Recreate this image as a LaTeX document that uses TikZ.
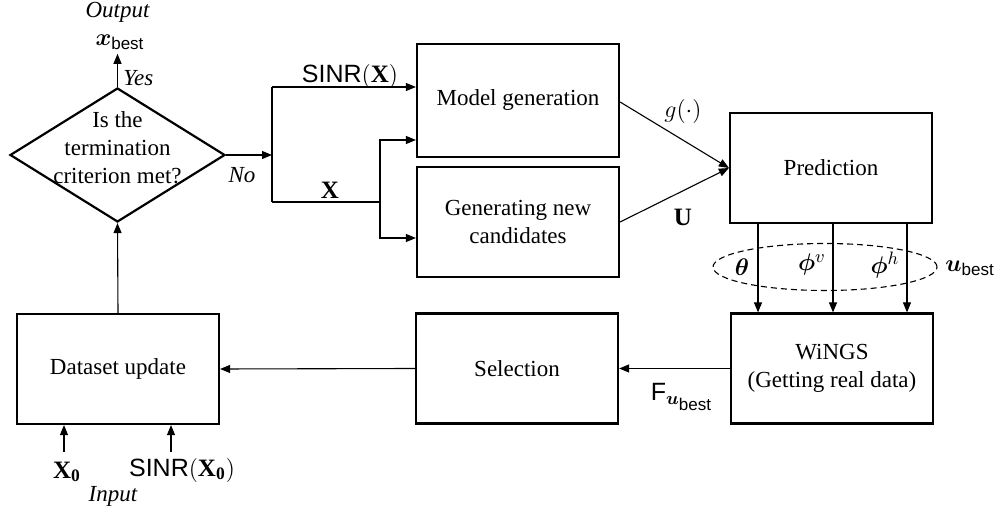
\documentclass[tikz,border=0pt]{standalone}
\usepackage{amsmath,bm}
\usepackage{fontspec}
\setmainfont{Liberation Serif}
\setsansfont{Liberation Sans}
\usetikzlibrary{shapes.geometric,arrows.meta}
\newcommand{\bestsub}{\mbox{\fontsize{8.5}{10}\selectfont\sffamily best}}
\begin{document}
\begin{tikzpicture}[x=0.5pt,y=-0.5pt,
  font=\fontsize{11.5}{14}\selectfont,
  blk/.style={draw,line width=1.1pt,minimum width=101pt,minimum height=55pt,align=center,inner sep=0pt},
  conn/.style={line width=0.55pt},
  arr/.style={conn,-{Triangle[length=5pt,width=4pt]}},
  lbl/.style={inner sep=0pt,font=\fontsize{12.5}{14}\selectfont},
  itl/.style={inner sep=0pt,font=\fontsize{11.5}{14}\selectfont\itshape}]
\useasboundingbox (0,0) rectangle (1000,512);

% blocks
\node[blk,minimum height=56.5pt] (model) at (518,100.5) {Model generation};
\node[blk] (gen) at (518,222) {Generating new\\candidates};
\node[blk] (pred) at (831,168) {Prediction};
\node[blk] (wings) at (832,368.5) {WiNGS\\(Getting real data)};
\node[blk] (sel) at (517,368.5) {Selection};
\node[blk] (data) at (118,369) {Dataset update};
\node[draw,diamond,line width=1.1pt,minimum width=107.5pt,minimum height=67pt,inner sep=0pt] (dec) at (117.5,155) {};
\node[align=center,inner sep=0pt] (dectext) at (117.5,148) {Is the\\termination\\criterion met?};

% output
\node[itl] (out) at (117.5,12) {Output};
\node[lbl] (xbest) at (120,42) {$\boldsymbol{x}_{\bestsub}$};
\draw[arr] (dec.north) -- ([yshift=-2pt]xbest.south -| dec.north);
\node[itl,anchor=west] (yes) at (123,78) {Yes};

% No branch
\coordinate (br) at (272,155);
\coordinate (brT) at (272,87);
\coordinate (brB) at (272,202);
\coordinate (fork) at (380,202);
\draw[arr] (dec.east) -- (br);
\node[itl] (no) at (242,175) {No};
\draw[conn] (brT) -- (brB);
\draw[arr] (brT) -- (brT -| model.west);
\draw[conn] (brB) -- (fork);
\draw[arr] (fork) |- (model.west |- 0,140);
\draw[arr] (fork) |- (gen.west |- 0,238);
\node[lbl] (sinrx) at (350,77) {{\sffamily SINR}$(\mathbf{X})$};
\node[lbl] (xl) at (330,190) {$\mathbf{X}$};

% to prediction
\draw[arr] (model.east |- 0,102) -- (pred.west);
\draw[arr] (gen.east |- 0,222) -- (pred.west);
\node[lbl] (gl) at (683,112) {$g(\cdot)$};
\node[lbl] (ul) at (683,217) {$\mathbf{U}$};

% prediction outputs
\draw[conn,dashed,dash pattern=on 3pt off 2pt] (825,267) ellipse [x radius=56pt,y radius=11.75pt];
\draw[arr] (pred.south -| 758,0) -- (wings.north -| 758,0);
\draw[arr] (pred.south -| 833,0) -- (wings.north -| 833,0);
\draw[arr] (pred.south -| 907,0) -- (wings.north -| 907,0);
\node[lbl] (th) at (742,267) {$\boldsymbol{\theta}$};
\node[lbl] (phv) at (812,265) {$\boldsymbol{\phi}^{v}$};
\node[lbl] (phh) at (885,265) {$\boldsymbol{\phi}^{h}$};
\node[lbl] (ub) at (970,268) {$\boldsymbol{u}_{\bestsub}$};

% bottom row
\draw[arr] (wings.west) -- (sel.east);
\node[lbl] (fl) at (682,397) {{\sffamily F}$_{\boldsymbol{u}_{\bestsub}}$};
\draw[arr] (sel.west) -- (data.east);
\draw[arr] (data.north) -- (dec.south);

% inputs
\coordinate (in1) at (64,452);
\coordinate (in2) at (171,452);
\draw[arr] (in1) -- (data.south -| in1);
\draw[arr] (in2) -- (data.south -| in2);
\node[lbl] (x0) at (67,472) {$\mathbf{X}_{\mathbf{0}}$};
\node[lbl] (sx0) at (182,470) {{\sffamily SINR}$(\mathbf{X}_{\mathbf{0}})$};
\node[itl] (inp) at (113,496) {Input};
\end{tikzpicture}
\end{document}
